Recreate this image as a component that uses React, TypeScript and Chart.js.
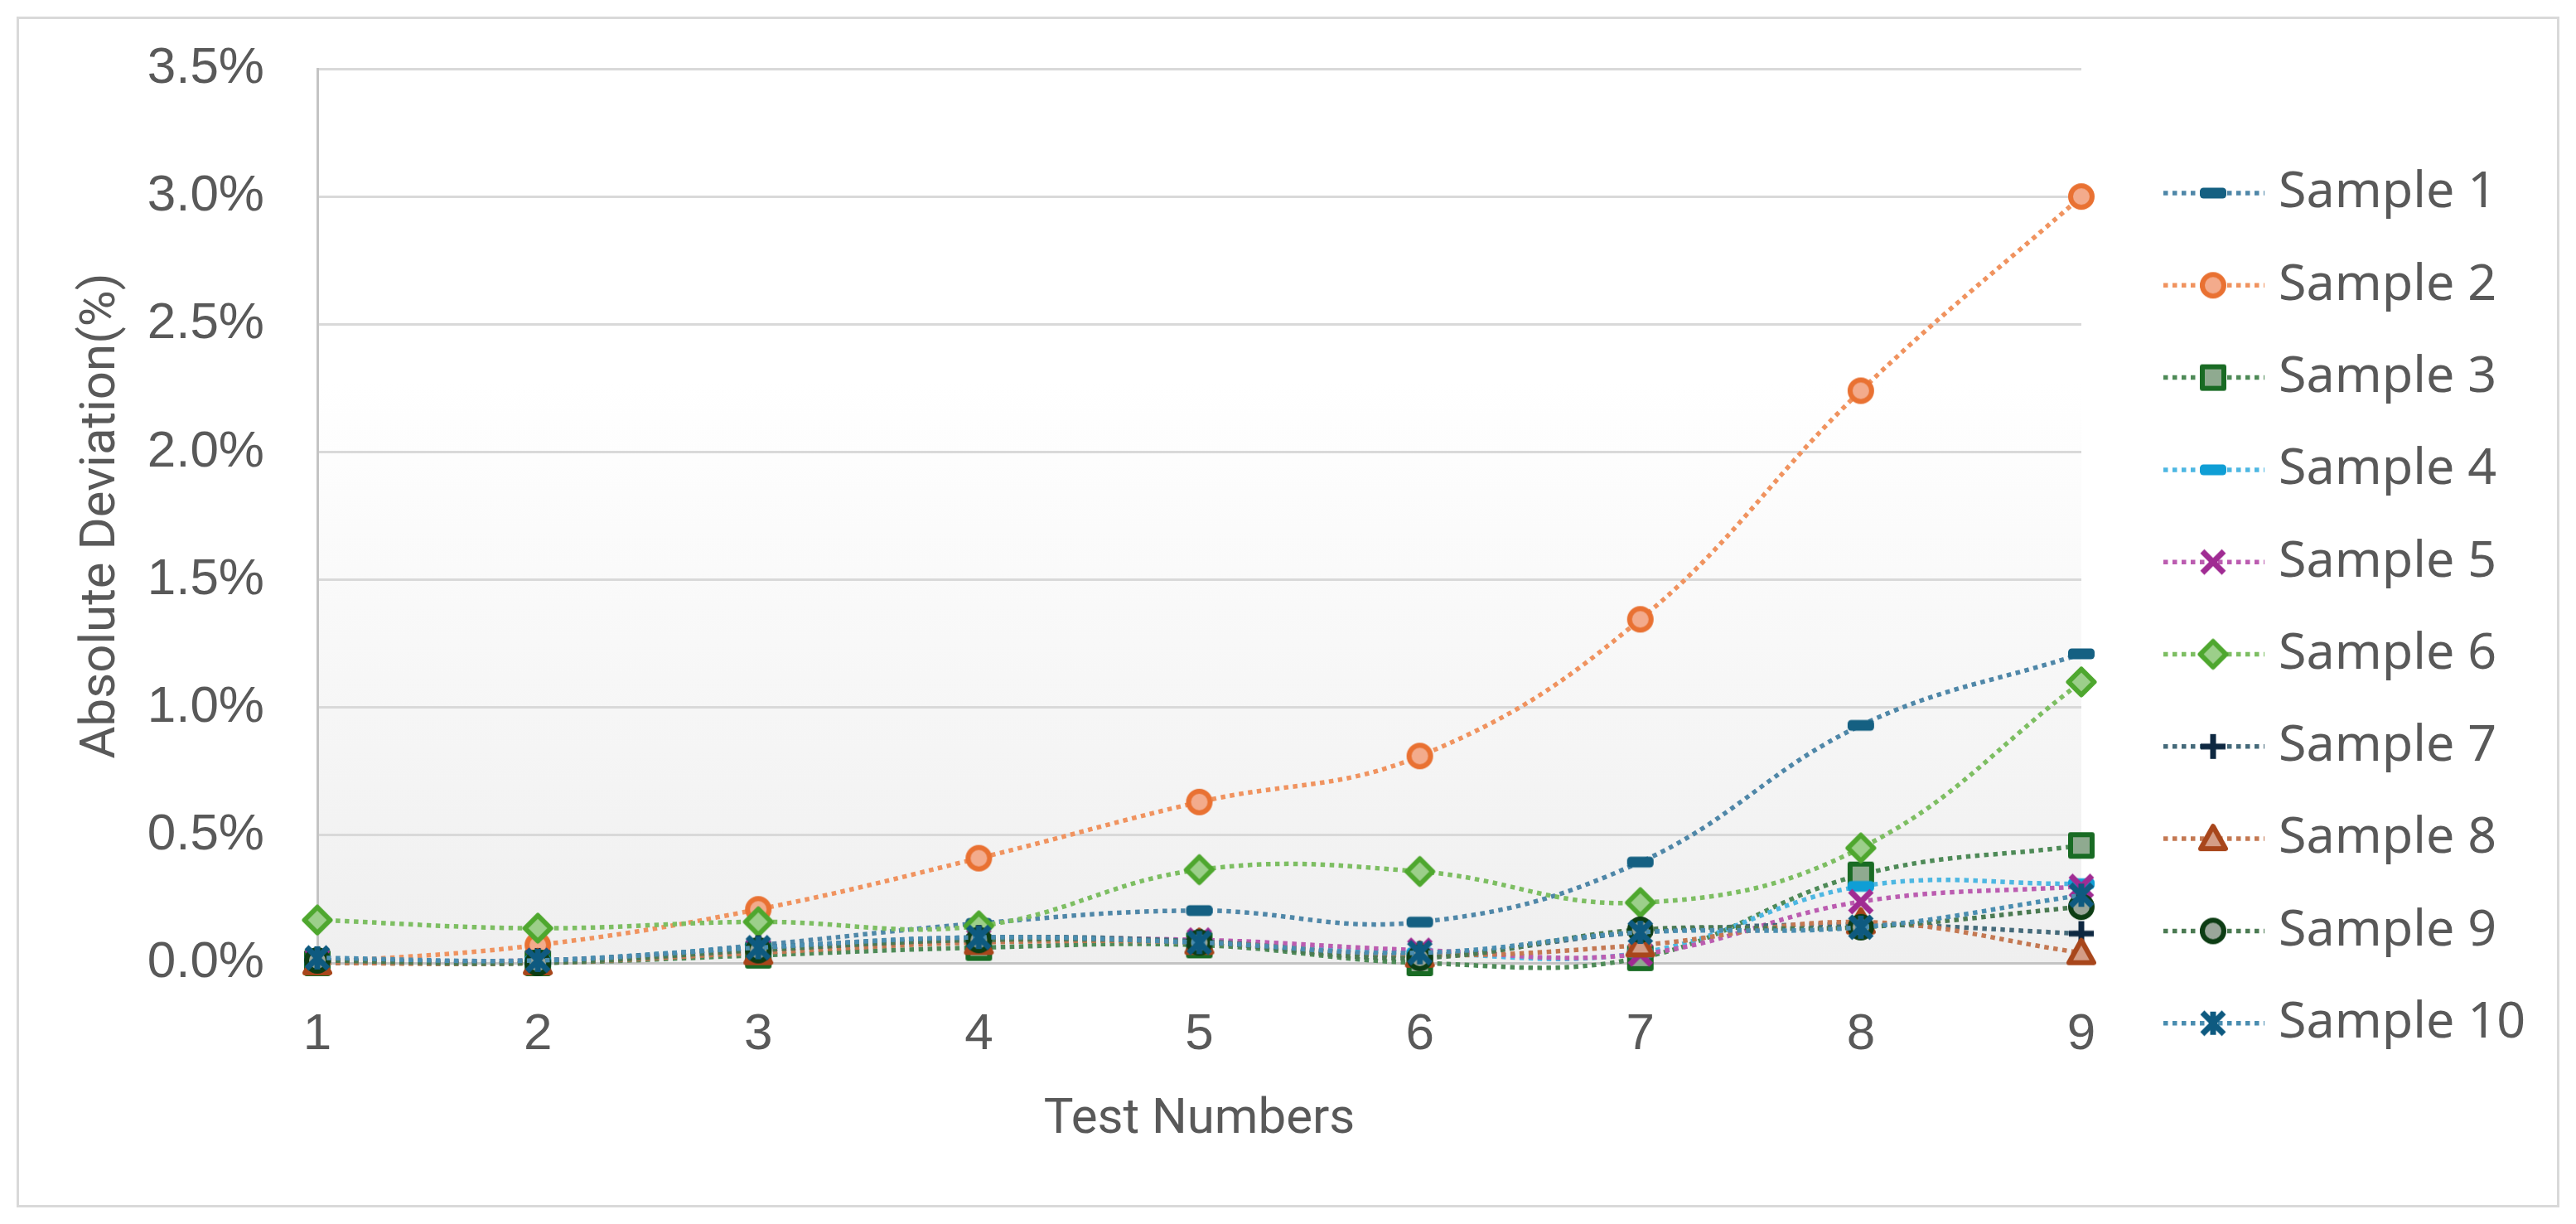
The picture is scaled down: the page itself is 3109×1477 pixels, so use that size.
import React, { useEffect, useRef } from 'react';
import { Chart, registerables } from 'chart.js';

Chart.register(...registerables);

// ---------- data ----------
const testNumbers = ['1', '2', '3', '4', '5', '6', '7', '8', '9'];
const seriesNames = ['Sample 1', 'Sample 2', 'Sample 3', 'Sample 4', 'Sample 5', 'Sample 6', 'Sample 7', 'Sample 8', 'Sample 9', 'Sample 10'];
const sample1 = [0.01, 0.0, 0.07, 0.155, 0.205, 0.16, 0.395, 0.93, 1.21];
const sample2 = [0.0, 0.07, 0.21, 0.41, 0.63, 0.81, 1.345, 2.24, 3.0];
const sample3 = [0.0, 0.0, 0.03, 0.06, 0.07, 0.0, 0.02, 0.345, 0.46];
const sample4 = [0.01, 0.01, 0.06, 0.09, 0.08, 0.04, 0.04, 0.3, 0.31];
const sample5 = [0.01, 0.01, 0.05, 0.09, 0.09, 0.05, 0.035, 0.24, 0.3];
const sample6 = [0.168, 0.136, 0.161, 0.145, 0.365, 0.358, 0.236, 0.45, 1.1];
const sample7 = [0.01, 0.01, 0.06, 0.1, 0.085, 0.03, 0.12, 0.15, 0.115];
const sample8 = [0.0, 0.0, 0.04, 0.08, 0.08, 0.03, 0.07, 0.16, 0.04];
const sample9 = [0.01, 0.0, 0.05, 0.09, 0.08, 0.02, 0.13, 0.14, 0.22];
const sample10 = [0.02, 0.01, 0.06, 0.1, 0.08, 0.04, 0.12, 0.14, 0.265];
const seriesValues = [sample1, sample2, sample3, sample4, sample5, sample6, sample7, sample8, sample9, sample10];
const yMin = 0;
const yMax = 3.5;
const yStep = 0.5;

// ---------- styles ----------
const markerKinds = ['dash', 'circle', 'square', 'dash', 'x', 'diamond', 'plus', 'triangle', 'circle', 'star'];
const markerStroke = ['#156082', '#E97132', '#196B24', '#0F9ED5', '#A02B93', '#4EA72E', '#0E2841', '#A8461B', '#0D3D14', '#0E5A80'];
const markerFill = ['#156082', '#F3AB8C', '#8FAA90', '#0F9ED5', '#A02B93', '#9CCF8A', '#0E2841', '#D49D86', '#9AA69A', '#0E5A80'];
const lineColors = ['#4F87A8', '#F0935F', '#4E8A57', '#4DB7E2', '#BB5CB0', '#7DBE62', '#456A7A', '#C47852', '#4B7A52', '#4A8DB0'];

const TEXT = '#595959';

function makeMarker(kind: string, stroke: string, fill: string): HTMLCanvasElement {
  const s = 44;
  const c = document.createElement('canvas');
  c.width = s;
  c.height = s;
  const g = c.getContext('2d') as CanvasRenderingContext2D;
  const m = s / 2;
  g.lineJoin = 'round';
  g.strokeStyle = stroke;
  g.fillStyle = fill;
  g.beginPath();
  switch (kind) {
    case 'dash': {
      const w = 32, h = 13, r = 4.5;
      const x0 = m - w / 2, y0 = m - h / 2;
      g.moveTo(x0 + r, y0);
      g.arcTo(x0 + w, y0, x0 + w, y0 + h, r);
      g.arcTo(x0 + w, y0 + h, x0, y0 + h, r);
      g.arcTo(x0, y0 + h, x0, y0, r);
      g.arcTo(x0, y0, x0 + w, y0, r);
      g.closePath();
      g.fillStyle = stroke;
      g.fill();
      break;
    }
    case 'circle':
      g.arc(m, m, 13, 0, Math.PI * 2);
      g.fill();
      g.lineWidth = 6;
      g.stroke();
      break;
    case 'square':
      g.rect(m - 13, m - 13, 26, 26);
      g.fill();
      g.lineWidth = 6;
      g.stroke();
      break;
    case 'diamond':
      g.moveTo(m, m - 15.5);
      g.lineTo(m + 15.5, m);
      g.lineTo(m, m + 15.5);
      g.lineTo(m - 15.5, m);
      g.closePath();
      g.fill();
      g.lineWidth = 6;
      g.stroke();
      break;
    case 'x':
      g.lineWidth = 7;
      g.moveTo(m - 13, m - 13);
      g.lineTo(m + 13, m + 13);
      g.moveTo(m + 13, m - 13);
      g.lineTo(m - 13, m + 13);
      g.stroke();
      break;
    case 'plus':
      g.lineWidth = 7;
      g.moveTo(m, m - 15);
      g.lineTo(m, m + 15);
      g.moveTo(m - 15, m);
      g.lineTo(m + 15, m);
      g.stroke();
      break;
    case 'triangle':
      g.moveTo(m, m - 15);
      g.lineTo(m + 15, m + 12);
      g.lineTo(m - 15, m + 12);
      g.closePath();
      g.fill();
      g.lineWidth = 6;
      g.stroke();
      break;
    case 'star':
      g.lineWidth = 7;
      g.moveTo(m - 13, m - 13);
      g.lineTo(m + 13, m + 13);
      g.moveTo(m + 13, m - 13);
      g.lineTo(m - 13, m + 13);
      g.moveTo(m, m - 14);
      g.lineTo(m, m + 14);
      g.stroke();
      break;
  }
  return c;
}

const plotBackground = {
  id: 'plotBackground',
  beforeDraw(chart: any) {
    const { ctx, chartArea } = chart;
    if (!chartArea) return;
    const grad = ctx.createLinearGradient(0, chartArea.top, 0, chartArea.bottom);
    grad.addColorStop(0, '#ffffff');
    grad.addColorStop(0.35, '#ffffff');
    grad.addColorStop(0.6, '#f9f9f9');
    grad.addColorStop(1, '#efefef');
    ctx.save();
    ctx.fillStyle = grad;
    ctx.fillRect(chartArea.left, chartArea.top, chartArea.right - chartArea.left, chartArea.bottom - chartArea.top);
    ctx.restore();
  },
};

const excelLegend = {
  id: 'excelLegend',
  afterDraw(chart: any) {
    const { ctx } = chart;
    const lineX0 = 2588;
    const lineX1 = 2710;
    const markX = 2648;
    const textX = 2727;
    const top = 210;
    const step = 111.3;
    chart.data.datasets.forEach((ds: any, i: number) => {
      const y = top + i * step;
      ctx.save();
      ctx.strokeStyle = ds.borderColor;
      ctx.lineWidth = 5.5;
      ctx.setLineDash([5.5, 5.5]);
      ctx.beginPath();
      ctx.moveTo(lineX0, y);
      ctx.lineTo(lineX1, y);
      ctx.stroke();
      ctx.setLineDash([]);
      const img = ds.pointStyle as HTMLCanvasElement;
      ctx.drawImage(img, markX - img.width / 2, y - img.height / 2);
      ctx.fillStyle = TEXT;
      ctx.font = '61px "Noto Sans"';
      ctx.textBaseline = 'middle';
      ctx.textAlign = 'left';
      ctx.fillText(ds.label, textX, y);
      ctx.restore();
    });
  },
};

export default function App() {
  const canvasRef = useRef<HTMLCanvasElement | null>(null);

  useEffect(() => {
    if (!canvasRef.current) return;
    const datasets = seriesNames.map((name, i) => ({
      label: name,
      data: seriesValues[i],
      borderColor: lineColors[i],
      backgroundColor: markerFill[i],
      borderWidth: 5.5,
      borderDash: [5.5, 5.5],
      borderCapStyle: 'butt' as const,
      tension: 0.4,
      fill: false,
      pointStyle: makeMarker(markerKinds[i], markerStroke[i], markerFill[i]),
      pointRadius: 15,
      clip: false as any,
      order: seriesNames.length - i,
    }));

    const chart = new Chart(canvasRef.current, {
      type: 'line',
      data: { labels: testNumbers, datasets },
      plugins: [plotBackground, excelLegend],
      options: {
        animation: false,
        responsive: true,
        maintainAspectRatio: false,
        events: [],
        layout: { padding: { left: 30, top: 60, right: 574, bottom: 0 } },
        elements: { line: { capBezierPoints: false } },
        plugins: {
          legend: { display: false },
          tooltip: { enabled: false },
        },
        scales: {
          x: {
            type: 'category',
            offset: false,
            grid: { display: false, drawTicks: false },
            border: { display: false },
            ticks: {
              color: TEXT,
              font: { family: '"Liberation Sans"', size: 62 },
              padding: 50,
              maxRotation: 0,
              autoSkip: false,
            },
            title: {
              display: true,
              text: 'Test Numbers',
              color: TEXT,
              font: { family: 'Roboto', size: 60 },
              padding: { top: 0, bottom: 66 },
            },
            afterFit: (s: any) => {
              s.height = 292;
            },
          },
          y: {
            min: yMin,
            max: yMax,
            ticks: {
              stepSize: yStep,
              color: TEXT,
              font: { family: '"Liberation Sans"', size: 62 },
              padding: 64,
              callback: (v: any) => Number(v).toFixed(1) + '%',
            },
            grid: {
              color: (c: any) => (c.tick && c.tick.value === 0 ? '#c4c4c4' : '#d9d9d9'),
              lineWidth: 3,
              drawTicks: false,
            },
            border: { display: true, color: '#c4c4c4', width: 3 },
            title: {
              display: true,
              text: 'Absolute Deviation(%)',
              color: TEXT,
              font: { family: 'Roboto', size: 60 },
              padding: { top: 34, bottom: 0 },
            },
            afterFit: (s: any) => {
              s.width = 330;
              s.paddingTop = 0;
              s.paddingBottom = 0;
            },
          },
        },
      },
    });
    return () => chart.destroy();
  }, []);

  return (
    <div
      style={{
        position: 'absolute',
        left: 20,
        top: 20,
        width: 3069,
        height: 1437,
        border: '3px solid #d9d9d9',
        boxSizing: 'border-box',
        background: '#ffffff',
      }}
    >
      <div style={{ position: 'absolute', left: 0, top: 0, width: 3063, height: 1431 }}>
        <canvas ref={canvasRef} />
      </div>
    </div>
  );
}
